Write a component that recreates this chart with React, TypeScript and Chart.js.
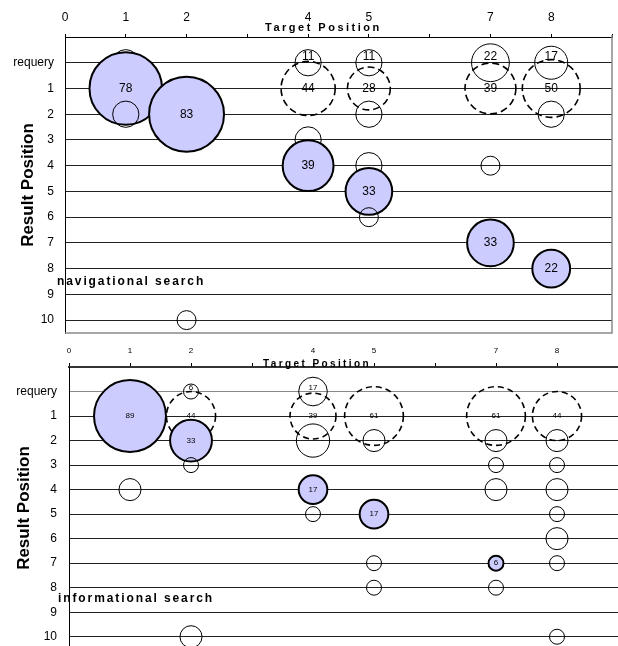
import { useEffect, useRef } from 'react';
import { Chart, registerables } from 'chart.js';

Chart.register(...registerables);

const FONT = "'Liberation Sans', Arial, Helvetica, sans-serif";

// Shared axis content
const resultCategories = ['requery', '1', '2', '3', '4', '5', '6', '7', '8', '9', '10'];
const targetTickLabels = [0, 1, 2, 4, 5, 7, 8];

// ---- navigational search ----
// clicks on the target result (filled bubbles)
const navFilledX = [1, 2, 4, 5, 7, 8];
const navFilledY = [1, 2, 4, 5, 7, 8];
const navFilledV = [78, 83, 39, 33, 33, 22];
// clicks on result 1 when the target was elsewhere (dashed bubbles)
const navFirstX = [4, 5, 7, 8];
const navFirstV = [44, 28, 39, 50];
// requery rate (open bubbles on the requery row)
const navRequeryX = [1, 4, 5, 7, 8];
const navRequeryV = [11, 11, 11, 22, 17];
const navRequeryShown = [false, true, true, true, true];
// other clicks (open bubbles, unlabeled)
const navOtherX = [1, 2, 4, 5, 5, 5, 7, 8];
const navOtherY = [2, 10, 3, 2, 4, 6, 4, 2];
const navOtherV = [11, 6, 11, 11, 11, 6, 6, 11];

// ---- informational search ----
const infFilledX = [1, 2, 4, 5, 7];
const infFilledY = [1, 2, 4, 5, 7];
const infFilledV = [89, 33, 17, 17, 6];
const infFirstX = [2, 4, 5, 7, 8];
const infFirstV = [44, 39, 61, 61, 44];
const infRequeryX = [2, 4];
const infRequeryV = [6, 17];
const infRequeryShown = [true, true];
const infOtherX = [1, 2, 2, 4, 4, 5, 5, 5, 7, 7, 7, 7, 8, 8, 8, 8, 8, 8, 8];
const infOtherY = [4, 3, 10, 2, 5, 2, 7, 8, 2, 3, 4, 8, 2, 3, 4, 5, 6, 7, 10];
const infOtherV = [11, 6, 11, 22, 6, 11, 6, 6, 11, 6, 11, 6, 11, 6, 11, 6, 11, 6, 6];

type Kind = 'requery' | 'first' | 'filled' | 'other';
type Pt = { x: number; y: number; r: number; v: number; kind: Kind; label: string };

interface SeriesSet {
  filledX: number[]; filledY: number[]; filledV: number[];
  firstX: number[]; firstV: number[];
  requeryX: number[]; requeryV: number[]; requeryShown: boolean[];
  otherX: number[]; otherY: number[]; otherV: number[];
}

interface PanelCfg {
  name: string;
  series: SeriesSet;
  top: number; height: number;
  yAxisWidth: number; xAxisHeight: number; padRight: number; padBottom: number;
  rK: number; rC: number;
  labelSize: number; reqDy: number;
  xTickSize: number; xTickPad: number; tickLen: number;
  xBorderColor: string; xBorderWidth: number;
  yTickPad: number; yTitlePad: number;
  grayFrame: boolean;
  requeryGridColor: string;
  xTitleSize: number; xTitleSpacing: number; xTitleX: number; xTitleY: number;
  nameSize: number; nameSpacing: number; nameX: number; nameY: number;
  dash: number[]; filledBorder: number; dashedBorder: number;
}

function buildDatasets(s: SeriesSet, rOf: (v: number) => number) {
  const pts: Pt[] = [];
  s.requeryX.forEach((x, i) => pts.push({ x, y: 0, v: s.requeryV[i], r: rOf(s.requeryV[i]), kind: 'requery', label: s.requeryShown[i] ? String(s.requeryV[i]) : '' }));
  s.firstX.forEach((x, i) => pts.push({ x, y: 1, v: s.firstV[i], r: rOf(s.firstV[i]), kind: 'first', label: String(s.firstV[i]) }));
  s.filledX.forEach((x, i) => pts.push({ x, y: s.filledY[i], v: s.filledV[i], r: rOf(s.filledV[i]), kind: 'filled', label: String(s.filledV[i]) }));
  s.otherX.forEach((x, i) => pts.push({ x, y: s.otherY[i], v: s.otherV[i], r: rOf(s.otherV[i]), kind: 'other', label: '' }));
  const xs = Array.from(new Set(pts.map((p) => p.x))).sort((a, b) => a - b);
  // one series per target position, points in result order (spreadsheet drawing order)
  return xs.map((x) => ({
    label: 'Target ' + x,
    order: 100 - x,
    data: pts.filter((p) => p.x === x).sort((a, b) => a.y - b.y),
  }));
}

const navCfg: PanelCfg = {
  name: 'navigational search',
  series: {
    filledX: navFilledX, filledY: navFilledY, filledV: navFilledV,
    firstX: navFirstX, firstV: navFirstV,
    requeryX: navRequeryX, requeryV: navRequeryV, requeryShown: navRequeryShown,
    otherX: navOtherX, otherY: navOtherY, otherV: navOtherV,
  },
  top: 0, height: 340,
  yAxisWidth: 65, xAxisHeight: 37, padRight: 6, padBottom: 7,
  rK: 4.2, rC: -0.8,
  labelSize: 12, reqDy: -6,
  xTickSize: 12, xTickPad: 9, tickLen: 3,
  xBorderColor: '#000', xBorderWidth: 1,
  yTickPad: 11, yTitlePad: 18,
  grayFrame: true,
  requeryGridColor: '#222',
  xTitleSize: 11, xTitleSpacing: 2.5, xTitleX: 265, xTitleY: 30.5,
  nameSize: 12, nameSpacing: 1.9, nameX: 57, nameY: 285,
  dash: [7, 4], filledBorder: 2, dashedBorder: 1.6,
};

const infCfg: PanelCfg = {
  name: 'informational search',
  series: {
    filledX: infFilledX, filledY: infFilledY, filledV: infFilledV,
    firstX: infFirstX, firstV: infFirstV,
    requeryX: infRequeryX, requeryV: infRequeryV, requeryShown: infRequeryShown,
    otherX: infOtherX, otherY: infOtherY, otherV: infOtherV,
  },
  top: 340, height: 320,
  yAxisWidth: 69, xAxisHeight: 27, padRight: 0, padBottom: 11,
  rK: 4.08, rC: -2.5,
  labelSize: 8, reqDy: -3.5,
  xTickSize: 8, xTickPad: 7, tickLen: 4,
  xBorderColor: '#333', xBorderWidth: 2,
  yTickPad: 12, yTitlePad: 14,
  grayFrame: false,
  requeryGridColor: '#888',
  xTitleSize: 10, xTitleSpacing: 2.4, xTitleX: 263, xTitleY: 27,
  nameSize: 12, nameSpacing: 1.9, nameX: 58, nameY: 262,
  dash: [6, 4], filledBorder: 2, dashedBorder: 1.6,
};

function BubblePanel({ cfg }: { cfg: PanelCfg }) {
  const ref = useRef<HTMLCanvasElement>(null);

  useEffect(() => {
    const canvas = ref.current;
    if (!canvas) return;
    const rOf = (v: number) => cfg.rK * Math.sqrt(v) + cfg.rC;
    const datasets = buildDatasets(cfg.series, rOf).map((d) => ({
      ...d,
      backgroundColor: (c: any) => (c.raw && c.raw.kind === 'filled' ? '#CCCCFF' : 'rgba(0,0,0,0)'),
      borderColor: '#000',
      borderWidth: (c: any) => (c.raw && c.raw.kind === 'filled' ? cfg.filledBorder : c.raw && c.raw.kind === 'first' ? cfg.dashedBorder : 1),
    }));

    const bubbleDraw = {
      id: 'bubbleDraw',
      beforeDatasetsDraw(chart: any) {
        if (!cfg.grayFrame) return;
        const { ctx, chartArea: a } = chart;
        ctx.save();
        ctx.strokeStyle = '#8a8a8a';
        ctx.lineWidth = 1.5;
        ctx.beginPath();
        ctx.moveTo(a.right, a.top - 2);
        ctx.lineTo(a.right, a.bottom);
        ctx.lineTo(a.left, a.bottom);
        ctx.stroke();
        ctx.restore();
      },
      beforeDatasetDraw(chart: any, args: any) {
        const ctx = chart.ctx;
        const ds = chart.data.datasets[args.index];
        args.meta.data.forEach((el: any, i: number) => {
          const p = ds.data[i] as Pt;
          ctx.save();
          ctx.setLineDash(p.kind === 'first' ? cfg.dash : []);
          el.draw(ctx, chart.chartArea);
          ctx.restore();
        });
        return false;
      },
      afterDatasetsDraw(chart: any) {
        const ctx = chart.ctx;
        ctx.save();
        ctx.fillStyle = '#000';
        ctx.textAlign = 'center';
        ctx.textBaseline = 'middle';
        ctx.font = `${cfg.labelSize}px ${FONT}`;
        chart.data.datasets.forEach((ds: any, di: number) => {
          const meta = chart.getDatasetMeta(di);
          meta.data.forEach((el: any, i: number) => {
            const p = ds.data[i] as Pt;
            if (!p.label) return;
            ctx.fillText(p.label, el.x, el.y + (p.kind === 'requery' ? cfg.reqDy : 0));
          });
        });
        ctx.restore();
      },
      afterDraw(chart: any) {
        const ctx = chart.ctx;
        ctx.save();
        ctx.fillStyle = '#000';
        ctx.textAlign = 'left';
        ctx.textBaseline = 'alphabetic';
        ctx.font = `bold ${cfg.xTitleSize}px ${FONT}`;
        ctx.letterSpacing = cfg.xTitleSpacing + 'px';
        ctx.fillText('Target Position', cfg.xTitleX, cfg.xTitleY);
        ctx.font = `bold ${cfg.nameSize}px ${FONT}`;
        ctx.letterSpacing = cfg.nameSpacing + 'px';
        ctx.fillText(cfg.name, cfg.nameX, cfg.nameY);
        ctx.letterSpacing = '0px';
        ctx.restore();
      },
    };

    const chart = new Chart(canvas, {
      type: 'bubble',
      data: { datasets: datasets as any },
      options: {
        animation: false,
        responsive: true,
        maintainAspectRatio: false,
        events: [],
        layout: { autoPadding: false, padding: { left: 0, top: 0, right: cfg.padRight, bottom: cfg.padBottom } },
        plugins: { legend: { display: false }, tooltip: { enabled: false } },
        scales: {
          x: {
            type: 'linear',
            position: 'top',
            min: 0,
            max: 9,
            afterFit: (s: any) => {
              s.height = cfg.xAxisHeight;
              s.paddingLeft = 0;
              s.paddingRight = 0;
            },
            ticks: {
              stepSize: 1,
              autoSkip: false,
              maxRotation: 0,
              padding: cfg.xTickPad,
              color: '#000',
              font: { family: FONT, size: cfg.xTickSize },
              callback: (v: any) => (targetTickLabels.includes(Number(v)) ? String(v) : ''),
            },
            grid: { drawOnChartArea: false, drawTicks: true, tickLength: cfg.tickLen, color: '#000', lineWidth: 1 },
            border: { color: cfg.xBorderColor, width: cfg.xBorderWidth },
          },
          y: {
            type: 'linear',
            reverse: true,
            min: -1,
            max: 10.5,
            afterFit: (s: any) => {
              s.width = cfg.yAxisWidth;
              s.paddingTop = 0;
              s.paddingBottom = 0;
            },
            afterBuildTicks: (s: any) => {
              s.ticks = s.ticks.filter((t: any) => Number.isInteger(t.value) && t.value >= 0 && t.value < resultCategories.length);
            },
            ticks: {
              stepSize: 1,
              includeBounds: false,
              autoSkip: false,
              padding: cfg.yTickPad,
              color: '#000',
              font: { family: FONT, size: 12 },
              callback: (v: any) => resultCategories[Number(v)] ?? '',
            },
            grid: {
              drawTicks: false,
              lineWidth: 1,
              color: (c: any) => (c.tick && c.tick.value === 0 ? cfg.requeryGridColor : '#222'),
            },
            border: { color: '#000', width: 1 },
            title: {
              display: true,
              text: 'Result Position',
              color: '#000',
              font: { family: FONT, size: 17, weight: 'bold' },
              padding: { top: cfg.yTitlePad, bottom: 0 },
            },
          },
        },
      },
      plugins: [bubbleDraw],
    });
    return () => chart.destroy();
  }, [cfg]);

  return (
    <div style={{ position: 'absolute', left: 0, top: cfg.top, width: 618, height: cfg.height }}>
      <canvas ref={ref} />
    </div>
  );
}

export default function App() {
  return (
    <div style={{ position: 'fixed', left: 0, top: 0, width: 618, height: 646, overflow: 'hidden', background: '#fff' }}>
      <BubblePanel cfg={navCfg} />
      <BubblePanel cfg={infCfg} />
    </div>
  );
}
